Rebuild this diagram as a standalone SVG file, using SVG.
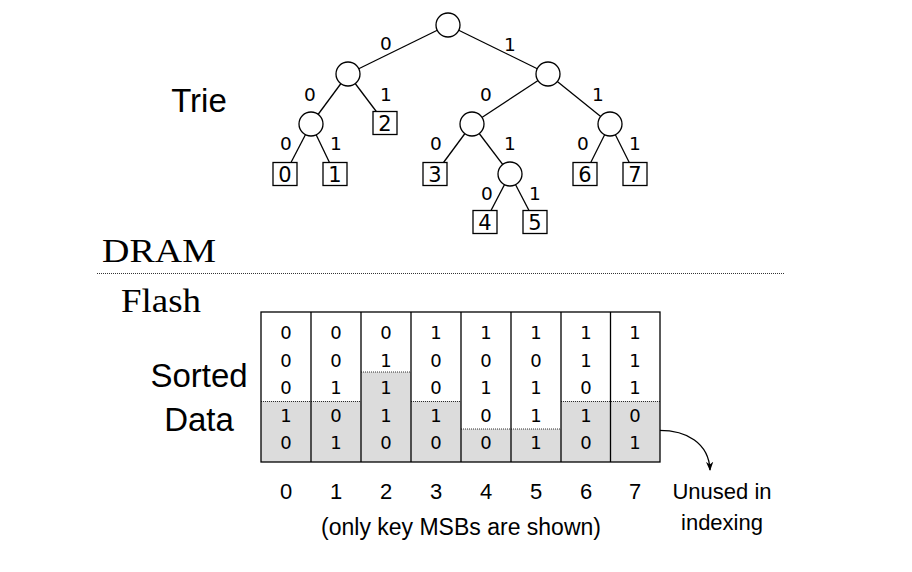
<svg xmlns="http://www.w3.org/2000/svg" width="912" height="572" viewBox="0 0 912 572">
<defs>
<style>
.edge{stroke:#000;stroke-width:1.3;fill:none}
.node{fill:#fff;stroke:#000;stroke-width:1.3}
.leaf{fill:#fff;stroke:#000;stroke-width:1.3}
.lbl{font-family:"DejaVu Sans",sans-serif;font-size:18.5px;text-anchor:middle;fill:#000}
.bx{font-family:"DejaVu Sans",sans-serif;font-size:21px;text-anchor:middle;fill:#000}
.cell{font-family:"DejaVu Sans",sans-serif;font-size:18px;text-anchor:middle;fill:#000}
.big{font-family:"Liberation Sans",sans-serif;font-size:33px;text-anchor:middle;fill:#000}
.serif{font-family:"Liberation Serif",serif;font-size:33px;fill:#000}
.note{font-family:"Liberation Sans",sans-serif;font-size:22px;text-anchor:middle;fill:#000}
.grey{fill:#dcdcdc}
.dot{stroke:#000;stroke-width:0.8;stroke-dasharray:1 1;fill:none}
.grid{stroke:#000;stroke-width:1.3;fill:none}
</style>
<marker id="ah" viewBox="0 0 10 10" refX="9" refY="5" markerWidth="7" markerHeight="7" orient="auto">
<path d="M0,1 L10,5 L0,9 L3,5 Z" fill="#000"/>
</marker>
</defs>
<rect width="912" height="572" fill="#fff"/>

<!-- labels on left -->
<text class="big" x="199" y="112">Trie</text>
<text class="serif" x="102" y="262" textLength="114" lengthAdjust="spacingAndGlyphs">DRAM</text>
<text class="serif" x="121" y="312" textLength="80" lengthAdjust="spacingAndGlyphs">Flash</text>
<text class="big" x="199" y="387">Sorted</text>
<text class="big" x="199" y="431">Data</text>
<line class="dot" x1="97" y1="273.5" x2="785" y2="273.5"/>

<!-- connectors -->
<g id="connectors">
<line class="edge" x1="448" y1="25" x2="348" y2="74"/>
<line class="edge" x1="448" y1="25" x2="548" y2="74"/>
<line class="edge" x1="348" y1="74" x2="311" y2="124"/>
<line class="edge" x1="348" y1="74" x2="385" y2="123"/>
<line class="edge" x1="548" y1="74" x2="472" y2="124"/>
<line class="edge" x1="548" y1="74" x2="610" y2="124"/>
<line class="edge" x1="311" y1="124" x2="285" y2="174"/>
<line class="edge" x1="311" y1="124" x2="335" y2="174"/>
<line class="edge" x1="472" y1="124" x2="435" y2="174"/>
<line class="edge" x1="472" y1="124" x2="510" y2="174"/>
<line class="edge" x1="610" y1="124" x2="585" y2="174"/>
<line class="edge" x1="610" y1="124" x2="635" y2="174"/>
<line class="edge" x1="510" y1="174" x2="485" y2="222"/>
<line class="edge" x1="510" y1="174" x2="535" y2="222"/>
<path class="edge" d="M648,431 C690,427 709,446 710,470" marker-end="url(#ah)"/>
</g>

<!-- edge labels -->
<g id="edge-labels">
<text class="lbl" x="386" y="50">0</text>
<text class="lbl" x="510" y="51">1</text>
<text class="lbl" x="310" y="101">0</text>
<text class="lbl" x="386" y="101">1</text>
<text class="lbl" x="486" y="101">0</text>
<text class="lbl" x="598" y="101">1</text>
<text class="lbl" x="286" y="150">0</text>
<text class="lbl" x="336" y="150">1</text>
<text class="lbl" x="436" y="150">0</text>
<text class="lbl" x="510" y="150">1</text>
<text class="lbl" x="583" y="150">0</text>
<text class="lbl" x="635" y="150">1</text>
<text class="lbl" x="487" y="200">0</text>
<text class="lbl" x="535" y="200">1</text>
</g>

<!-- trie internal nodes -->
<g id="n-root"><circle class="node" cx="448" cy="25" r="12"/></g>
<g id="n-0"><circle class="node" cx="348" cy="74" r="12"/></g>
<g id="n-1"><circle class="node" cx="548" cy="74" r="12"/></g>
<g id="n-00"><circle class="node" cx="311" cy="124" r="12"/></g>
<g id="n-10"><circle class="node" cx="472" cy="124" r="12"/></g>
<g id="n-11"><circle class="node" cx="610" cy="124" r="12"/></g>
<g id="n-101"><circle class="node" cx="510" cy="174" r="12"/></g>

<!-- leaves -->
<g id="leaf-0"><rect class="leaf" x="273" y="162.5" width="24" height="23"/><text class="bx" x="285" y="181.5">0</text></g>
<g id="leaf-1"><rect class="leaf" x="323" y="162.5" width="24" height="23"/><text class="bx" x="335" y="181.5">1</text></g>
<g id="leaf-2"><rect class="leaf" x="373" y="111.5" width="24" height="23"/><text class="bx" x="385" y="130.5">2</text></g>
<g id="leaf-3"><rect class="leaf" x="423" y="162.5" width="24" height="23"/><text class="bx" x="435" y="181.5">3</text></g>
<g id="leaf-4"><rect class="leaf" x="473" y="210.5" width="24" height="23"/><text class="bx" x="485" y="229.5">4</text></g>
<g id="leaf-5"><rect class="leaf" x="523" y="210.5" width="24" height="23"/><text class="bx" x="535" y="229.5">5</text></g>
<g id="leaf-6"><rect class="leaf" x="573" y="162.5" width="24" height="23"/><text class="bx" x="585" y="181.5">6</text></g>
<g id="leaf-7"><rect class="leaf" x="623" y="162.5" width="24" height="23"/><text class="bx" x="635" y="181.5">7</text></g>

<!-- sorted data table -->
<g id="table">
<rect class="grey" x="261" y="401" width="150" height="61"/>
<rect class="grey" x="361" y="372" width="50" height="30"/>
<rect class="grey" x="411" y="401" width="50" height="61"/>
<rect class="grey" x="461" y="429" width="100" height="33"/>
<rect class="grey" x="561" y="401" width="99" height="61"/>
<path class="dot" d="M261,401.5 H361 M361,372 H411 M411,401.5 H461 M461,429 H561 M561,401.5 H660"/>
<rect class="grid" x="261" y="312" width="399" height="150"/>
<path class="grid" d="M311,312 V462 M361,312 V462 M411,312 V462 M461,312 V462 M511,312 V462 M561,312 V462 M610.5,312 V462"/>
<g id="col-0"><text class="cell" x="286" y="339">0</text><text class="cell" x="286" y="366.5">0</text><text class="cell" x="286" y="394">0</text><text class="cell" x="286" y="421.5">1</text><text class="cell" x="286" y="449">0</text></g>
<g id="col-1"><text class="cell" x="336" y="339">0</text><text class="cell" x="336" y="366.5">0</text><text class="cell" x="336" y="394">1</text><text class="cell" x="336" y="421.5">0</text><text class="cell" x="336" y="449">1</text></g>
<g id="col-2"><text class="cell" x="386" y="339">0</text><text class="cell" x="386" y="366.5">1</text><text class="cell" x="386" y="394">1</text><text class="cell" x="386" y="421.5">1</text><text class="cell" x="386" y="449">0</text></g>
<g id="col-3"><text class="cell" x="436" y="339">1</text><text class="cell" x="436" y="366.5">0</text><text class="cell" x="436" y="394">0</text><text class="cell" x="436" y="421.5">1</text><text class="cell" x="436" y="449">0</text></g>
<g id="col-4"><text class="cell" x="486" y="339">1</text><text class="cell" x="486" y="366.5">0</text><text class="cell" x="486" y="394">1</text><text class="cell" x="486" y="421.5">0</text><text class="cell" x="486" y="449">0</text></g>
<g id="col-5"><text class="cell" x="536" y="339">1</text><text class="cell" x="536" y="366.5">0</text><text class="cell" x="536" y="394">1</text><text class="cell" x="536" y="421.5">1</text><text class="cell" x="536" y="449">1</text></g>
<g id="col-6"><text class="cell" x="586" y="339">1</text><text class="cell" x="586" y="366.5">1</text><text class="cell" x="586" y="394">0</text><text class="cell" x="586" y="421.5">1</text><text class="cell" x="586" y="449">0</text></g>
<g id="col-7"><text class="cell" x="635" y="339">1</text><text class="cell" x="635" y="366.5">1</text><text class="cell" x="635" y="394">1</text><text class="cell" x="635" y="421.5">0</text><text class="cell" x="635" y="449">1</text></g>
</g>

<!-- indices -->
<g id="indices">
<text class="note" x="286" y="499">0</text>
<text class="note" x="336" y="499">1</text>
<text class="note" x="386" y="499">2</text>
<text class="note" x="436" y="499">3</text>
<text class="note" x="486" y="499">4</text>
<text class="note" x="536" y="499">5</text>
<text class="note" x="586" y="499">6</text>
<text class="note" x="635" y="499">7</text>
</g>
<text class="note" x="461" y="535" style="font-size:23px">(only key MSBs are shown)</text>
<g id="note-unused">
<text class="note" x="722" y="499">Unused in</text>
<text class="note" x="722" y="530">indexing</text>
</g>
</svg>
